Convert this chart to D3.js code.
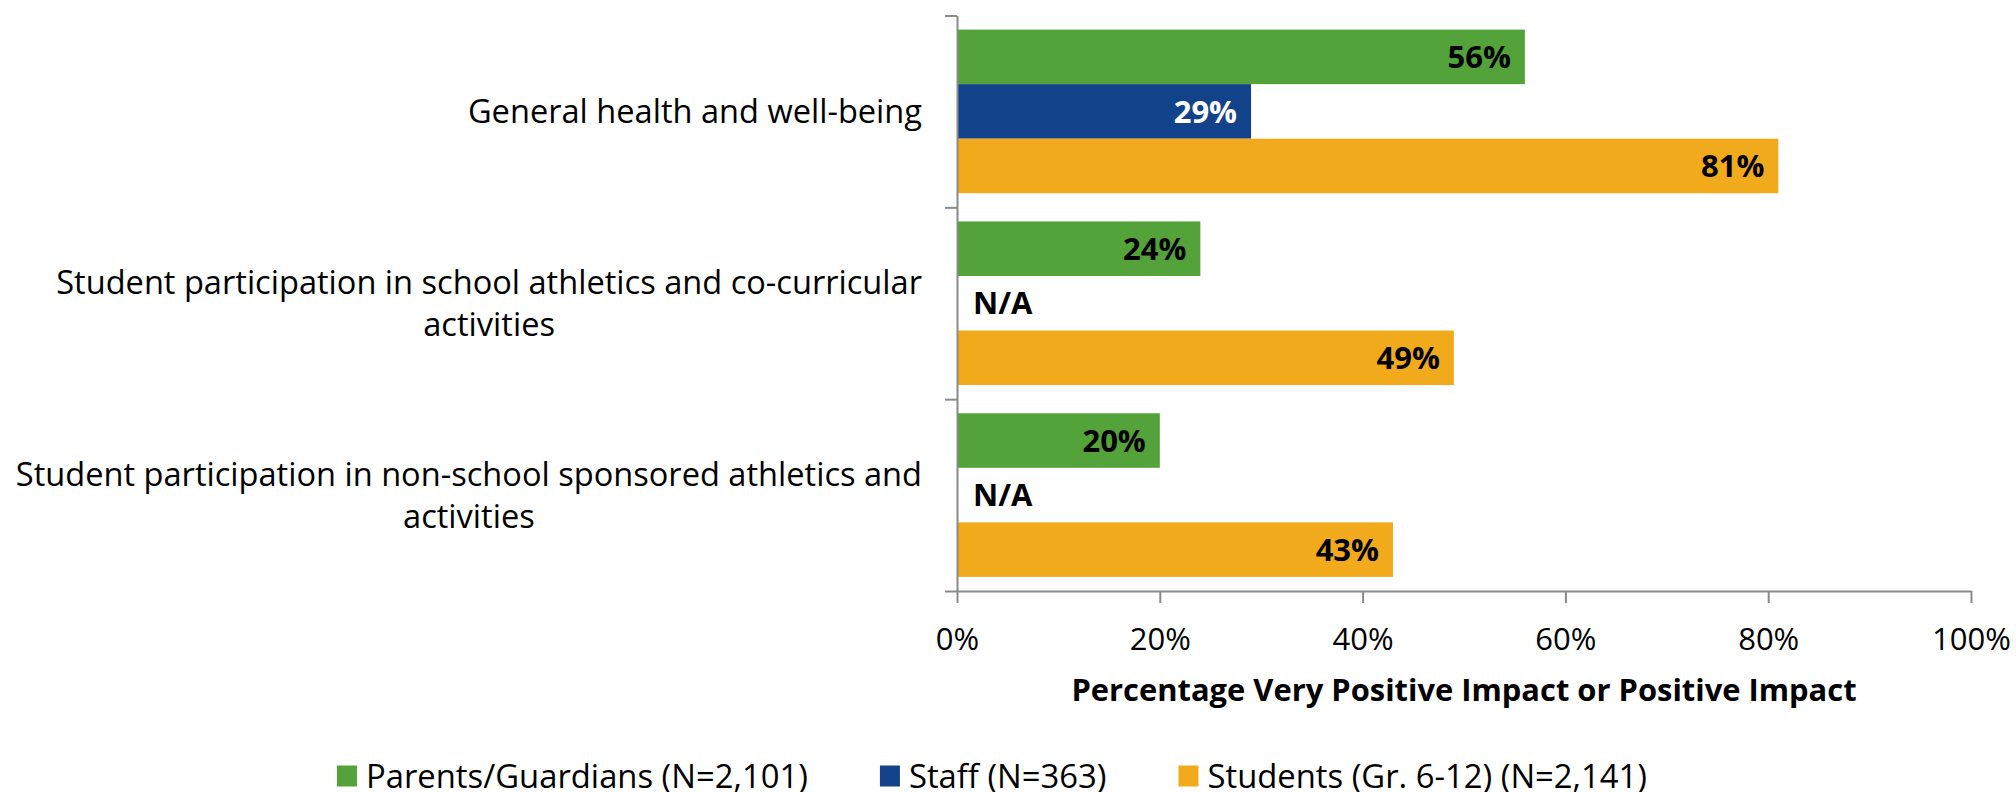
<!DOCTYPE html>
<html>
<head>
<meta charset="utf-8">
<script src="https://cdn.jsdelivr.net/npm/d3@7"></script>
<style>
  body { margin: 0; background: #fff; }
  svg { display: block; font-family: "Open Sans", sans-serif; }
</style>
</head>
<body>
<svg id="chart" width="2016" height="792"></svg>
<script>
// categories (lines as they wrap in the original)
var categories = [
    ["General health and well-being"],
    ["Student participation in school athletics and co-curricular", "activities"],
    ["Student participation in non-school sponsored athletics and", "activities"]
];
var series = ["Parents/Guardians (N=2,101)", "Staff (N=363)", "Students (Gr. 6-12) (N=2,141)"];
var parentsValues = [56, 24, 20];
var staffValues = [29, null, null];   // null = N/A
var studentValues = [81, 49, 43];
var xTicks = [0, 20, 40, 60, 80, 100];
var axisTitle = "Percentage Very Positive Impact or Positive Impact";

var colors = ["#53A23A", "#124289", "#F0AA1C"];
var labelColors = ["#000", "#fff", "#000"];
var allValues = [parentsValues, staffValues, studentValues];

var svg = d3.select("#chart");

// note: "top" is taken by window.top, so plotTop
var plotLeft = 957, plotRight = 1971, plotTop = 15.5, plotBottom = 591;

var x = d3.scaleLinear()
    .domain([0, 100])
    .range([plotLeft, plotRight]);

var catIdx = d3.range(categories.length);

var y0 = d3.scaleBand()
    .domain(catIdx)
    .range([plotTop, plotBottom])
    .paddingInner(0.147)
    .paddingOuter(0.0735);

var y1 = d3.scaleBand()
    .domain(d3.range(series.length))
    .range([0, y0.bandwidth()]);

// one row per category with its three values
var rows = catIdx.map(function(c) {
    return series.map(function(s, i) {
        return { cat: c, ser: i, value: allValues[i][c] };
    });
});

var groups = svg.append("g")
    .selectAll("g")
    .data(rows)
    .enter().append("g")
    .attr("transform", function(d, i) { return "translate(0," + y0(i) + ")"; });

groups.selectAll("rect")
    .data(function(d) { return d.filter(function(e) { return e.value != null; }); })
    .enter().append("rect")
    .attr("x", x(0))
    .attr("y", function(d) { return y1(d.ser); })
    .attr("width", function(d) { return x(d.value) - x(0); })
    .attr("height", y1.bandwidth())
    .style("fill", function(d) { return colors[d.ser]; });

groups.selectAll("text")
    .data(function(d) { return d; })
    .enter().append("text")
    .attr("x", function(d) { return d.value == null ? x(0) + 16 : x(d.value) - 14; })
    .attr("y", function(d) { return y1(d.ser) + y1.bandwidth() / 2; })
    .attr("dy", "0.36em")
    .attr("text-anchor", function(d) { return d.value == null ? "start" : "end"; })
    .style("font-weight", "bold")
    .style("font-size", "31px")
    .style("fill", function(d) { return d.value == null ? "#000" : labelColors[d.ser]; })
    .text(function(d) { return d.value == null ? "N/A" : d.value + "%"; });

// category axis: ticks on band edges
var yEdge = d3.scaleLinear().domain([0, categories.length]).range([plotTop, plotBottom]);
var yAxis = svg.append("g")
    .attr("transform", "translate(" + plotLeft + ",0)")
    .call(d3.axisLeft(yEdge).ticks(categories.length).tickFormat("").tickSize(12).tickSizeOuter(0));

// value axis
var xAxis = svg.append("g")
    .attr("transform", "translate(0," + plotBottom + ")")
    .call(d3.axisBottom(x).tickValues(xTicks).tickSize(12).tickSizeOuter(0)
        .tickFormat(function(d) { return d + "%"; }));

xAxis.selectAll("text")
    .attr("y", 48)
    .attr("dy", "0.36em")
    .style("font-size", "31px")
    .style("fill", "#000");

[yAxis, xAxis].forEach(function(a) {
    a.attr("font-family", null).attr("font-size", null);
    a.select(".domain").style("stroke", "#8A8A8A").style("stroke-width", 2);
    a.selectAll(".tick line").style("stroke", "#8A8A8A").style("stroke-width", 2);
});

// category labels
var catLabels = svg.append("g")
    .selectAll("text")
    .data(categories)
    .enter().append("text")
    .style("font-size", "32.6px")
    .style("fill", "#000");

catLabels.each(function(lines, i) {
    var t = d3.select(this);
    var cy = y0(i) + y0.bandwidth() / 2;
    var lh = 42;
    lines.forEach(function(line, k) {
        t.append("tspan")
            .attr("y", cy + (k - (lines.length - 1) / 2) * lh)
            .attr("dy", "0.36em")
            .text(line);
    });
    // right-align the block, centre the lines in it
    var widths = [];
    t.selectAll("tspan").each(function() { widths.push(this.getComputedTextLength()); });
    var w = d3.max(widths);
    var blockRight = plotLeft - 35;
    t.selectAll("tspan")
        .attr("x", blockRight - w / 2)
        .attr("text-anchor", "middle");
});

// axis title
svg.append("text")
    .attr("x", (plotLeft + plotRight) / 2)
    .attr("y", 690)
    .attr("dy", "0.36em")
    .attr("text-anchor", "middle")
    .style("font-weight", "bold")
    .style("font-size", "30.9px")
    .text(axisTitle);

// legend
var legend = svg.append("g");
var items = legend.selectAll("g")
    .data(series)
    .enter().append("g");

items.append("rect")
    .attr("width", 20)
    .attr("height", 21)
    .attr("y", -10.5)
    .style("fill", function(d, i) { return colors[i]; });

items.append("text")
    .attr("x", 29)
    .attr("dy", "0.36em")
    .style("font-size", "32.8px")
    .text(function(d) { return d; });

var offset = 0;
items.each(function() {
    var g = d3.select(this);
    g.attr("transform", "translate(" + offset + ",0)");
    offset += 29 + g.select("text").node().getComputedTextLength() + 72;
});
var legendWidth = offset - 72;
legend.attr("transform", "translate(" + (992 - legendWidth / 2) + ",776)");
</script>
</body>
</html>
